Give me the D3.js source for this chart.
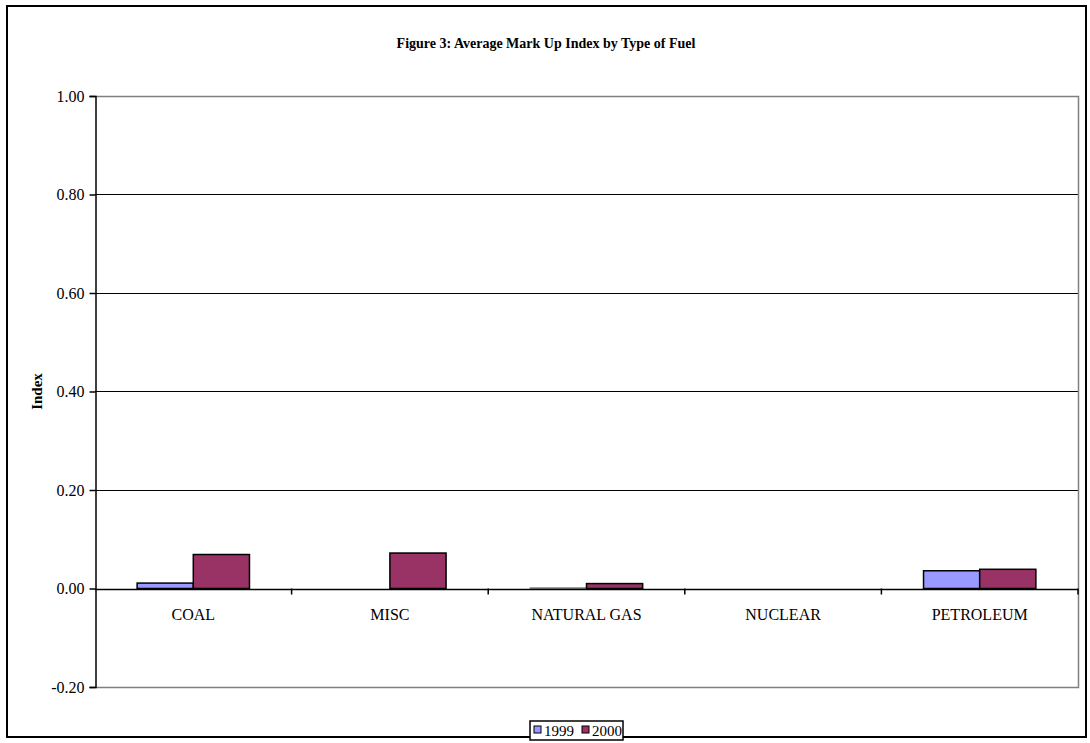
<!DOCTYPE html>
<html>
<head>
<meta charset="utf-8">
<script src="https://cdn.jsdelivr.net/npm/d3@7"></script>
<style>
  html, body { margin: 0; padding: 0; background: #fff; }
  svg { display: block; }
  text { font-family: "Liberation Serif", "Times New Roman", serif; fill: #000; }
</style>
</head>
<body>
<svg id="chart" width="1090" height="743"></svg>
<script>
// Fuel categories and average mark-up index per year
const categories = ["COAL", "MISC", "NATURAL GAS", "NUCLEAR", "PETROLEUM"];
const seriesNames = ["1999", "2000"];
const values1999 = [0.011, 0.0, 0.001, 0.0, 0.036];
const values2000 = [0.069, 0.072, 0.010, 0.0, 0.039];
const yTicks = [-0.20, 0.00, 0.20, 0.40, 0.60, 0.80, 1.00];
const seriesColors = ["#9999FF", "#993366"];

const series = [values1999, values2000];

const svg = d3.select("#chart");

// outer chart frame
svg.append("rect")
  .attr("x", 7).attr("y", 6).attr("width", 1079).attr("height", 731)
  .attr("fill", "#fff").attr("stroke", "#000").attr("stroke-width", 2);

const plot = { left: 95, right: 1078, top: 96, bottom: 687 };

const y = d3.scaleLinear().domain([-0.2, 1.0]).range([plot.bottom, plot.top]);
const x = d3.scaleBand().domain(categories).range([plot.left, plot.right]).paddingInner(0).paddingOuter(0);
// two bars per category, with a gap of ~150% of a bar width
const barW = x.bandwidth() / (2 + 1.5);
const xs = d3.scaleBand().domain(seriesNames).range([0, barW * 2]);
const groupOffset = (x.bandwidth() - barW * 2) / 2;

// gridlines
svg.append("g")
  .selectAll("line")
  .data(yTicks.filter(t => t > -0.2))
  .join("line")
  .attr("x1", plot.left).attr("x2", plot.right)
  .attr("y1", d => Math.round(y(d)) + 0.5).attr("y2", d => Math.round(y(d)) + 0.5)
  .attr("stroke", "#000").attr("stroke-width", 1);

// plot area border (gray)
svg.append("path")
  .attr("d", `M${plot.left + 0.5},${plot.top + 0.5} H${plot.right + 0.5} V${plot.bottom + 0.5} H${plot.left + 0.5}`)
  .attr("fill", "none").attr("stroke", "#808080").attr("stroke-width", 1.5);

// bars
seriesNames.forEach((name, si) => {
  svg.append("g")
    .selectAll("rect")
    .data(categories.map((c, i) => ({ c, v: series[si][i] })))
    .join("rect")
    .attr("x", d => x(d.c) + groupOffset + xs(name))
    .attr("width", xs.bandwidth())
    .attr("y", d => Math.min(y(d.v), y(0)))
    .attr("height", d => Math.abs(y(0) - y(d.v)))
    .attr("fill", seriesColors[si])
    .attr("stroke", d => d.v > 0.002 ? "#000" : "#808080")
    .attr("stroke-width", 1.5);
});

// y axis (plain hyphen for negatives)
const yAxis = d3.axisLeft(y).tickValues(yTicks).tickFormat(d => d.toFixed(2)).tickSize(6).tickPadding(5);
const gy = svg.append("g").attr("transform", `translate(${plot.left + 0.5},0)`).call(yAxis);
gy.select(".domain").attr("stroke", "#000").attr("stroke-width", 1.5);
gy.selectAll(".tick line").attr("stroke", "#000").attr("stroke-width", 1.5);
gy.selectAll(".tick text")
  .style("font-family", "Liberation Serif, serif").style("font-size", "16px").attr("fill", "#000");

// category axis along zero line
const xAxis = d3.axisBottom(x).tickSize(0).tickPadding(19);
const gx = svg.append("g").attr("transform", `translate(0,${Math.round(y(0)) + 0.5})`).call(xAxis);
gx.select(".domain").remove();
gx.selectAll(".tick text")
  .style("font-family", "Liberation Serif, serif").style("font-size", "16px").attr("fill", "#000");
svg.append("line")
  .attr("x1", plot.left).attr("x2", plot.right)
  .attr("y1", Math.round(y(0)) + 0.5).attr("y2", Math.round(y(0)) + 0.5)
  .attr("stroke", "#000").attr("stroke-width", 1.5);
// category boundary tick marks
svg.append("g")
  .selectAll("line")
  .data(categories.slice(1).map(c => x(c)).concat([plot.right]))
  .join("line")
  .attr("x1", d => d).attr("x2", d => d)
  .attr("y1", y(0)).attr("y2", y(0) + 6)
  .attr("stroke", "#000").attr("stroke-width", 1.5);

// title
svg.append("text")
  .attr("x", 546).attr("y", 48)
  .attr("text-anchor", "middle")
  .style("font-size", "14px").style("font-weight", "bold")
  .text("Figure 3: Average Mark Up Index by Type of Fuel");

// y axis title
svg.append("text")
  .attr("transform", `translate(42,${(plot.top + plot.bottom) / 2}) rotate(-90)`)
  .attr("text-anchor", "middle")
  .style("font-size", "15px").style("font-weight", "bold")
  .text("Index");

// legend
const lg = svg.append("g").attr("transform", "translate(530,721)");
lg.append("rect").attr("x", 0).attr("y", 0).attr("width", 93).attr("height", 19)
  .attr("fill", "#fff").attr("stroke", "#000").attr("stroke-width", 1.5);
const legendItems = [{ name: seriesNames[0], x: 4 }, { name: seriesNames[1], x: 52 }];
legendItems.forEach((it, i) => {
  lg.append("rect").attr("x", it.x).attr("y", 5).attr("width", 7).attr("height", 7)
    .attr("fill", seriesColors[i]).attr("stroke", "#000").attr("stroke-width", 1);
  lg.append("text").attr("x", it.x + 10).attr("y", 15)
    .style("font-size", "15px").text(it.name);
});
</script>
</body>
</html>
